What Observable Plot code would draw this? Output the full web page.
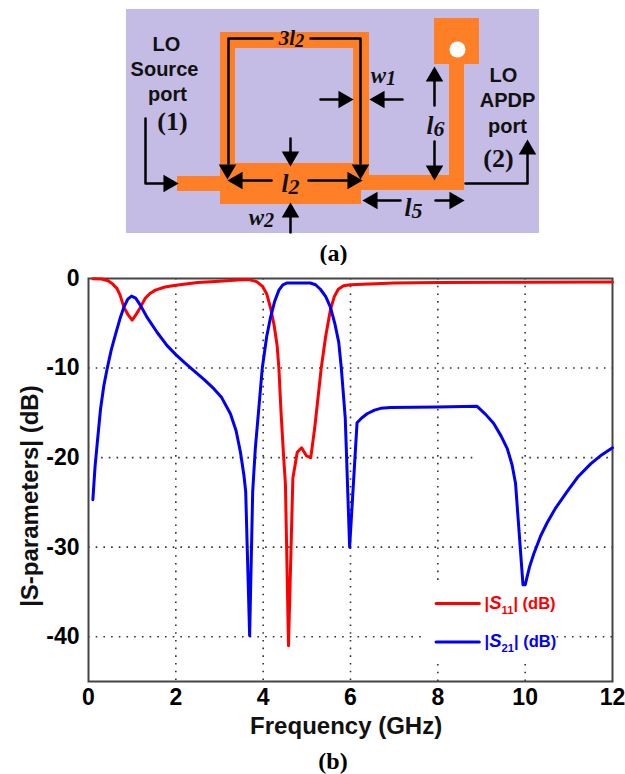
<!DOCTYPE html>
<html><head><meta charset="utf-8">
<script src="https://cdn.jsdelivr.net/npm/d3@7"></script>
<script src="https://cdn.jsdelivr.net/npm/@observablehq/plot@0.6"></script>
<style>html,body{margin:0;padding:0;background:#fff}svg{display:block}</style>
</head><body><div id="root"></div>
<script>
// ---------- Chart data (b) ----------
const s11Freq = [0.1,0.3,0.45,0.55,0.65,0.72,0.81,0.9,1.0,1.08,1.19,1.3,1.4,1.53,1.75,2,2.5,3,3.5,3.7,3.85,3.98,4.08,4.17,4.25,4.32,4.36,4.41,4.47,4.51,4.58,4.68,4.78,4.88,4.99,5.09,5.18,5.33,5.43,5.54,5.63,5.72,5.84,6,7,8,10,12];
const s11dB   = [-0.02,-0.06,-0.25,-0.6,-1.1,-1.8,-3.2,-4,-4.65,-4.1,-3.2,-2.2,-1.7,-1.3,-0.95,-0.75,-0.45,-0.3,-0.15,-0.15,-0.35,-0.85,-1.7,-3.3,-5.2,-7.5,-10,-15,-20,-23,-41,-22.3,-19.4,-18.9,-19.8,-20,-16.7,-10,-6.5,-3.5,-2,-1.2,-0.8,-0.7,-0.5,-0.45,-0.42,-0.4];
const s21Freq = [0.1,0.15,0.2,0.275,0.35,0.43,0.52,0.62,0.72,0.81,0.9,0.985,1.08,1.19,1.35,1.57,1.8,2,2.2,2.41,2.65,2.87,3.05,3.25,3.38,3.48,3.56,3.6,3.69,3.76,3.82,3.9,3.98,4.08,4.17,4.26,4.36,4.45,4.55,5.08,5.2,5.31,5.43,5.54,5.64,5.73,5.79,5.88,5.98,6.15,6.25,6.38,6.55,6.69,6.92,7.99,8.9,9.1,9.28,9.45,9.59,9.7,9.78,9.95,10,10.1,10.2,10.35,10.5,10.7,10.96,11.2,11.5,11.75,12];
const s21dB   = [-24.7,-21,-18.4,-14.6,-12,-10,-8,-6.2,-4.5,-3.2,-2.3,-1.97,-2.2,-3,-4.4,-6,-7.5,-8.5,-9.4,-10.3,-11.3,-12.3,-13.3,-15.1,-17,-19.4,-22,-23.8,-39.9,-23.8,-19,-14.5,-10,-6.5,-4.3,-2.6,-1.3,-0.7,-0.5,-0.5,-0.7,-1.2,-2,-3.2,-5,-7.1,-10,-15.6,-30,-16.1,-15.6,-15.1,-14.7,-14.5,-14.4,-14.35,-14.27,-15.2,-16.2,-17.6,-19,-20.8,-22.9,-34.2,-34.2,-32.2,-30.7,-28.8,-27.3,-25.6,-23.8,-22.2,-20.7,-19.7,-18.9];
const xTicks = [0,2,4,6,8,10,12];
const yTicks = [0,-10,-20,-30,-40];
// dotted grid runs, with the gaps seen around the legend and curves
const gridH = [[-10,0,12],[-20,0.3,8.86],[-20,9.93,12],[-30,0,12],[-40,0,7.7],[-40,10.73,12]];
const gridV = [[2,0,-45],[4,0,-45],[6,0,-45],[8,0,-33.9],[8,-43.1,-45],[10,0,-30.5],[10,-43.1,-45]];
const legendItems = [
  {name:"|S_11| (dB)", color:"#ff0000", dB:-36.3},
  {name:"|S_21| (dB)", color:"#0000ff", dB:-40.6}
];
const legendLine = [7.96, 8.95];
const legendTextAt = 9.07;

// ---------- Schematic (a): shapes in layout units ----------
const panel = [[126,9,539,233]];
const copper = [[220,32,369,48],[220,32,235,170],[353,32,369,180],[220,163,361,204],[177,176,221,191],[360,175,464,190],[449,63,464,190],[434,18,479,64]];
const hole = [[457,49]];
const leaders = [
  [[228,163],[228,38],[272,38]],
  [[360,163],[360,38],[310,38]],
  [[271,180],[240,180]],[[308,180],[350,180]],
  [[290,138],[290,157]],[[290,232],[290,212]],
  [[320,99],[340,99]],[[402,99],[382,99]],
  [[434,105],[434,78]],[[434,141],[434,168]],
  [[400,200],[376,200]],[[435,200],[452,200]],
  [[145,118],[145,183],[165,183]],
  [[465,183],[527,183],[527,152]]
];
// arrow heads: x, y, pointing angle (deg clockwise from up)
const heads = [
  [227,169,180],[360,169,180],[237,180,270],[352,180,90],
  [290,156,180],[290,212,0],[343,99,90],[379,99,270],
  [434,76,0],[434,170,180],[372,200,270],[454,200,90],
  [168,183,90],[527,149,0]
];
const sansLabels = [["LO",166,44],["Source",164,69],["port",167,94],["LO",503,75],["APDP",507,100],["port",507,126]];
const portLabels = [["(1)",172,121],["(2)",498,158]];
const symLabels = [["3l_2",291,38,21],["w_1",383,75,23],["l_6",435,125,25],["l_2",290,183,25],["w_2",261,217,23],["l_5",413,207,25]];
const serif = "'Liberation Serif'", sans = "'Liberation Sans'";

// turn "a_b" strings into real subscripts (run once the svg is in the page)
function subscripts(svg, shift, scale) {
  d3.select(svg).selectAll("text").each(function() {
    const t = this.textContent;
    if (!t.includes("_")) return;
    const el = d3.select(this);
    const [a, rest] = t.split("_");
    const m = rest.match(/^(\d+)(.*)$/);
    const size = parseFloat(getComputedStyle(this).fontSize);
    el.text(null);
    if (a.startsWith("|")) {
      el.append("tspan").text("|");
      el.append("tspan").attr("font-style","italic").attr("font-size",size*1.12).text(a.slice(1));
    } else el.append("tspan").text(a);
    el.append("tspan").attr("dy", size*shift).attr("font-size", size*scale).text(m[1]);
    if (m[2]) el.append("tspan").attr("dy", -size*shift).text(m[2]);
  });
}

const schematic = Plot.plot({
  width:625, height:265, margin:0,
  x:{type:"linear",domain:[0,625],range:[0,625],axis:null},
  y:{type:"linear",domain:[0,265],range:[0,265],axis:null},
  marks:[
    Plot.rect(panel,{x1:d=>d[0],y1:d=>d[1],x2:d=>d[2],y2:d=>d[3],fill:"#c4bce4"}),
    Plot.rect(copper,{x1:d=>d[0],y1:d=>d[1],x2:d=>d[2],y2:d=>d[3],fill:"#ff7f27"}),
    Plot.dot(hole,{x:d=>d[0],y:d=>d[1],r:8,fill:"#fff"}),
    ...leaders.map(p=>Plot.line(p,{x:d=>d[0],y:d=>d[1],stroke:"#000",strokeWidth:2.5,curve:"linear"})),
    Plot.dot(heads,{x:d=>d[0],y:d=>d[1],rotate:d=>d[2],symbol:"triangle",r:6.5,fill:"#000"}),
    Plot.text(sansLabels,{x:d=>d[1],y:d=>d[2],text:d=>d[0],fontSize:20,fontWeight:"bold",fontFamily:sans,fill:"#111"}),
    Plot.text(portLabels,{x:d=>d[1],y:d=>d[2],text:d=>d[0],fontSize:26,fontWeight:"bold",fontFamily:serif,fill:"#111"}),
    Plot.text(symLabels,{x:d=>d[1],y:d=>d[2],text:d=>d[0],fontSize:d=>d[3],fontStyle:"italic",fontWeight:"bold",fontFamily:serif,fill:"#111"}),
    Plot.text(["(a)"],{x:[333],y:[253],fontSize:24,fontWeight:"bold",fontFamily:serif,fill:"#000"})
  ]
});

const chart = Plot.plot({
  width:625, height:509,
  marginLeft:88, marginRight:13, marginTop:13, marginBottom:93,
  style:{fontFamily:sans,fontWeight:"bold",background:"transparent"},
  x:{domain:[0,12]},
  y:{domain:[-45,0]},
  marks:[
    Plot.ruleY(gridH,{y:d=>d[0],x1:d=>d[1],x2:d=>d[2],stroke:"#333",strokeWidth:1.6,strokeDasharray:"1.6 6.1"}),
    Plot.ruleX(gridV,{x:d=>d[0],y1:d=>d[1],y2:d=>d[2],stroke:"#333",strokeWidth:1.6,strokeDasharray:"1.6 6.1"}),
    Plot.frame({stroke:"#444",strokeWidth:2}),
    Plot.axisX({ticks:xTicks,tickSize:0,tickPadding:7,label:null,fontSize:23,tickFormat:d=>String(d)}),
    Plot.axisY({ticks:yTicks,tickSize:0,tickPadding:9,label:null,fontSize:23,tickFormat:d=>String(d)}),
    Plot.line(s11Freq.map((f,i)=>[f,s11dB[i]]),{x:d=>d[0],y:d=>d[1],stroke:"#ff0000",strokeWidth:3,curve:"linear"}),
    Plot.line(s21Freq.map((f,i)=>[f,s21dB[i]]),{x:d=>d[0],y:d=>d[1],stroke:"#0000f5",strokeWidth:3,curve:"linear"}),
    ...legendItems.map(l=>Plot.line(legendLine,{x:d=>d,y:()=>l.dB,stroke:l.color,strokeWidth:3})),
    Plot.text(legendItems,{x:()=>legendTextAt,y:d=>d.dB,text:d=>d.name,fill:d=>d.color,textAnchor:"start",fontSize:16.5}),
    Plot.text(["Frequency (GHz)"],{x:[5.9],y:[-50.0],fontSize:24,fill:"#111"}),
    Plot.text(["|S-parameters| (dB)"],{x:[-1.33],y:[-24.3],rotate:-90,fontSize:24,fill:"#111"}),
    Plot.text(["(b)"],{x:[5.6],y:[-53.9],fontSize:24,fontFamily:serif,fill:"#000"})
  ]
});

const root = document.getElementById("root");
root.append(schematic, chart);
subscripts(schematic,0.08,0.88);
subscripts(chart,0.3,0.68);
</script></body></html>
